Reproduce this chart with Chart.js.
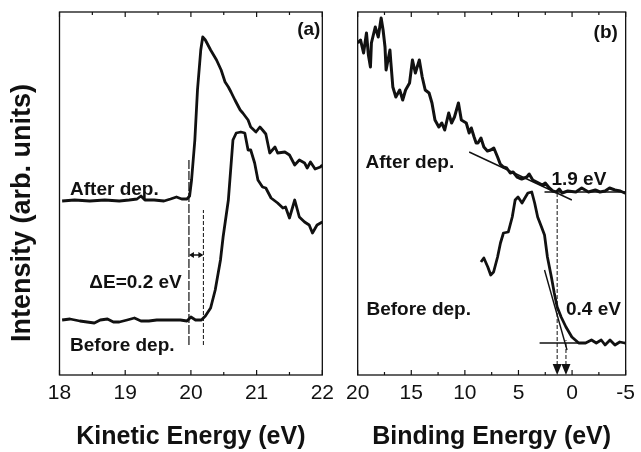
<!DOCTYPE html>
<html><head><meta charset="utf-8">
<script src="https://cdn.jsdelivr.net/npm/chart.js@4/dist/chart.umd.min.js"></script>
<style>
html,body{margin:0;padding:0;background:#fff;overflow:hidden;}
#wa{position:absolute;left:0;top:0;width:340px;height:452px;}
#wb{position:absolute;left:340px;top:0;width:301px;height:452px;}
</style></head><body>
<div id="wa"><canvas id="ca"></canvas></div>
<div id="wb"><canvas id="cb"></canvas></div>
<script>
// ---------- Panel (a): Kinetic energy ----------
const keAfter = [18.04,18.23,18.46,18.69,18.91,19.06,19.18,19.24,19.30,19.44,19.59,19.69,19.78,19.86,19.94,19.98,20.01,20.06,20.10,20.15,20.18,20.22,20.30,20.39,20.46,20.52,20.57,20.61,20.67,20.75,20.79,20.87,20.91,20.99,21.05,21.09,21.14,21.20,21.28,21.32,21.43,21.50,21.58,21.65,21.73,21.77,21.82,21.89,21.97,22.0];
const intAfterA = [174,175,174,175,174,175,176,179,175,175,174,176,178,176,176,179,195,235,285,325,338,335,325,315,305,293,288,283,275,265,262,255,248,243,248,245,241,222,228,222,223,220,210,215,212,207,213,206,208,210];
const keBefore = [18.04,18.16,18.31,18.53,18.62,18.73,18.82,18.91,19.03,19.14,19.24,19.36,19.48,19.59,19.74,19.84,19.94,20.00,20.07,20.16,20.22,20.30,20.37,20.45,20.49,20.57,20.64,20.69,20.76,20.82,20.87,20.91,20.97,21.02,21.09,21.14,21.22,21.32,21.40,21.44,21.50,21.58,21.65,21.73,21.80,21.85,21.92,22.0];
const intBeforeA = [55,56,54,52,55,56,53,53,55,57,54,54,55,55,55,55,54,58,55,55,59,67,85,115,138,175,235,242,243,242,225,225,212,195,188,187,177,172,167,168,157,175,158,153,150,142,150,153];
const keTicks = [18,19,20,21,22];
const keMinorTicks = [18.5,19.5,20.5,21.5];
const onsetAfterKE = 19.97, onsetBeforeKE = 20.19;

// ---------- Panel (b): Binding energy ----------
const beAfter = [20.0,19.73,19.45,19.18,19.0,18.81,18.72,18.36,18.08,17.81,17.63,17.45,17.35,16.99,16.90,16.72,16.44,16.08,15.80,15.53,15.16,14.89,14.62,14.25,13.98,13.70,13.34,13.07,12.79,12.43,12.15,11.88,11.51,11.24,10.97,10.60,10.33,9.87,9.60,9.4,9.14,8.95,8.78,8.5,8.23,7.9,7.59,7.3,6.95,6.7,6.40,6.1,5.77,5.5,5.13,4.7,4.22,4.0,3.67,3.3,2.76,2.5,2.12,1.8,1.48,1.2,0.93,0.4,-0.35,-0.9,-1.53,-2.17,-2.6,-3.08,-3.5,-4.0,-4.5,-4.91,-5.0];
const intAfterB = [332,335,322,342,320,308,332,348,338,357,345,328,305,325,312,288,278,285,275,285,292,315,302,315,298,285,282,272,255,248,252,245,262,252,258,272,255,252,242,247,238,232,232,237,228,224,225,227,218,211,208,207,202,203,198,196,198,201,195,193,190,192,187,184,183,186,182,184,183,187,183,185,183,184,187,185,184,182,183];
const beBefore = [8.50,8.23,7.86,7.59,7.32,6.95,6.68,6.40,5.95,5.58,5.31,5.04,4.67,4.40,4.12,3.76,3.49,3.21,2.85,2.57,2.30,1.93,1.66,1.39,1.02,0.57,0.02,-0.62,-1.26,-1.81,-2.26,-2.72,-3.08,-3.54,-4.0,-4.45,-4.91,-5.0];
const intBeforeB = [113,117,108,100,103,118,132,142,143,158,175,178,172,177,182,183,172,158,148,140,118,98,82,68,58,48,38,32,32,35,32,35,30,35,30,33,32,32];
const beTicks = [20,15,10,5,0,-5];
const beMinorTicks = [17.5,12.5,7.5,2.5,-2.5];
const tangentAfterBE = [9.6, 0.02], tangentAfterInt = [223, 175];
const baseAfterBE = [2.57, -4.9], baseAfterInt = [183, 183];
const tangentBeforeBE = [2.57, 0.47], tangentBeforeInt = [105, 25];
const baseBeforeBE = [3.03, -0.8], baseBeforeInt = [32, 32];
const edgeAfterBE = 1.39, edgeBeforeBE = 0.57;

const FONT = "'Liberation Sans', Arial, Helvetica, sans-serif";
const INK = '#111111';
const pts = (xs, ys) => xs.map((v, i) => ({x: v, y: ys[i]}));
const curve = (xs, ys, w) => ({data: pts(xs, ys), showLine: true, borderColor: INK, borderWidth: w, pointRadius: 0, tension: 0, fill: false, borderJoinStyle: 'round'});
const dashed = (xs, ys) => ({data: pts(xs, ys), showLine: true, borderColor: INK, borderWidth: 1, borderDash: [4, 2], pointRadius: 0});

const decor = {
  id: 'decor',
  afterDatasetsDraw(chart, args, o) {
    const {ctx, chartArea: {left, right, top, bottom}, scales: {x, y}} = chart;
    ctx.save();
    ctx.strokeStyle = INK; ctx.lineWidth = 1.3;
    ctx.strokeRect(left, top, right - left, bottom - top);
    const seg = (x1, y1, x2, y2) => { ctx.beginPath(); ctx.moveTo(x1, y1); ctx.lineTo(x2, y2); ctx.stroke(); };
    ctx.lineWidth = 1.2;
    o.major.forEach(v => { const p = x.getPixelForValue(v); seg(p, bottom, p, bottom - 5); seg(p, top, p, top + 5); });
    o.minor.forEach(v => { const p = x.getPixelForValue(v); seg(p, bottom, p, bottom - 3); seg(p, top, p, top + 3); });
    ctx.fillStyle = INK;
    (o.downArrows || []).forEach(v => {
      const p = x.getPixelForValue(v);
      ctx.beginPath(); ctx.moveTo(p - 4.5, bottom - 11); ctx.lineTo(p + 4.5, bottom - 11); ctx.lineTo(p, bottom); ctx.closePath(); ctx.fill();
    });
    if (o.doubleArrow) {
      const d = o.doubleArrow;
      const x1 = x.getPixelForValue(d.x1), x2 = x.getPixelForValue(d.x2), py = y.getPixelForValue(d.y);
      ctx.lineWidth = 1.5; seg(x1 + 2, py, x2 - 2, py);
      ctx.beginPath(); ctx.moveTo(x1, py); ctx.lineTo(x1 + 5, py - 3); ctx.lineTo(x1 + 5, py + 3); ctx.closePath(); ctx.fill();
      ctx.beginPath(); ctx.moveTo(x2, py); ctx.lineTo(x2 - 5, py - 3); ctx.lineTo(x2 - 5, py + 3); ctx.closePath(); ctx.fill();
    }
    ctx.textBaseline = 'middle';
    o.labels.forEach(l => {
      ctx.font = 'bold 19px ' + FONT;
      ctx.textAlign = l.align;
      ctx.fillText(l.text, x.getPixelForValue(l.x), y.getPixelForValue(l.y));
    });
    if (o.yTitle) {
      ctx.save();
      ctx.translate(o.yTitle.cx, o.yTitle.cy);
      ctx.rotate(-Math.PI / 2);
      ctx.font = 'bold 27px ' + FONT;
      ctx.textAlign = 'center';
      ctx.fillText(o.yTitle.text, 0, 0);
      ctx.restore();
    }
    ctx.restore();
  }
};

function xAxis(min, max, step, reverse, title) {
  return {
    type: 'linear', position: 'bottom', min, max, reverse,
    ticks: {stepSize: step, color: INK, font: {family: FONT, size: 21}, padding: 6, maxRotation: 0, autoSkip: false},
    grid: {display: false, drawTicks: false}, border: {display: false},
    title: {display: true, text: title, color: INK, font: {family: FONT, size: 25, weight: 'bold'}, padding: {top: 0, bottom: 0}},
    afterFit(s) { s.height = 77; }
  };
}
const yAxis = {type: 'linear', display: false, min: 0, max: 363};

Chart.defaults.animation = false;

new Chart(document.getElementById('ca'), {
  type: 'scatter',
  data: {datasets: [
    curve(keAfter, intAfterA, 2.8),
    curve(keBefore, intBeforeA, 2.8),
    {data: pts([onsetAfterKE, onsetAfterKE], [30, 215]), showLine: true, borderColor: INK, borderWidth: 1.2, borderDash: [9, 2], pointRadius: 0},
    dashed([onsetBeforeKE, onsetBeforeKE], [30, 165])
  ]},
  options: {
    responsive: true, maintainAspectRatio: false,
    layout: {padding: {left: 59.5, right: 15, top: 12, bottom: 0}},
    scales: {x: xAxis(18, 22, 1, false, 'Kinetic Energy (eV)'), y: yAxis},
    plugins: {legend: {display: false}, tooltip: {enabled: false},
      decor: {
        major: keTicks, minor: keMinorTicks,
        doubleArrow: {x1: onsetAfterKE, x2: onsetBeforeKE, y: 120},
        labels: [
          {text: '(a)', x: 21.97, y: 345, align: 'right'},
          {text: 'After dep.', x: 18.16, y: 185, align: 'left'},
          {text: 'ΔE=0.2 eV', x: 19.86, y: 92, align: 'right'},
          {text: 'Before dep.', x: 18.16, y: 29, align: 'left'}
        ],
        yTitle: {text: 'Intensity (arb. units)', cx: 23, cy: 213}
      }}
  },
  plugins: [decor]
});

new Chart(document.getElementById('cb'), {
  type: 'scatter',
  data: {datasets: [
    curve(beAfter, intAfterB, 3),
    curve(beBefore, intBeforeB, 2.8),
    curve(tangentAfterBE, tangentAfterInt, 1.4),
    curve(baseAfterBE, baseAfterInt, 1.4),
    curve(tangentBeforeBE, tangentBeforeInt, 1.4),
    curve(baseBeforeBE, baseBeforeInt, 1.4),
    dashed([edgeAfterBE, edgeAfterBE], [10, 182]),
    dashed([edgeBeforeBE, edgeBeforeBE], [10, 35])
  ]},
  options: {
    responsive: true, maintainAspectRatio: false,
    layout: {padding: {left: 14, right: 13, top: 12, bottom: 0}},
    scales: {x: xAxis(-5, 20, 5, true, 'Binding Energy (eV)'), y: yAxis},
    plugins: {legend: {display: false}, tooltip: {enabled: false},
      decor: {
        major: beTicks, minor: beMinorTicks,
        downArrows: [edgeAfterBE, edgeBeforeBE],
        labels: [
          {text: '(b)', x: -4.27, y: 342, align: 'right'},
          {text: 'After dep.', x: 19.27, y: 212, align: 'left'},
          {text: '1.9 eV', x: 1.93, y: 195, align: 'left'},
          {text: 'Before dep.', x: 19.18, y: 65, align: 'left'},
          {text: '0.4 eV', x: 0.57, y: 65, align: 'left'}
        ]
      }}
  },
  plugins: [decor]
});
</script>
</body></html>
